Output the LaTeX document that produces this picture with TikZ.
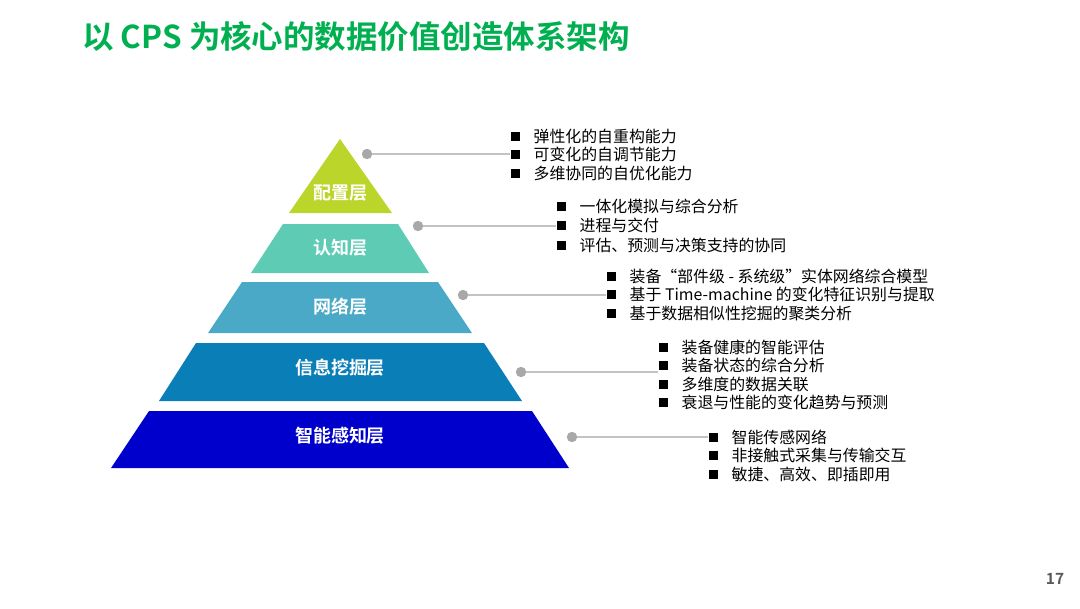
\documentclass[tikz,border=0pt]{standalone}
\usepackage{fontspec}
\usepackage{tikz}
\setmainfont{Noto Sans CJK SC}[BoldFont={Noto Sans CJK SC Bold}]
\usetikzlibrary{positioning, calc}

\definecolor{titlegreen}{HTML}{00B050}
\definecolor{layerA}{HTML}{BCD52A}
\definecolor{layerB}{HTML}{5ECCB4}
\definecolor{layerC}{HTML}{49A9C6}
\definecolor{layerD}{HTML}{0A7EB6}
\definecolor{layerE}{HTML}{0000CC}
\definecolor{leadgray}{HTML}{C3C3C3}
\definecolor{dotgray}{HTML}{A8A8A8}

\begin{document}
\begin{tikzpicture}[x=0.25mm, y=-0.25mm,
    lbl/.style={text=white, font=\bfseries\fontsize{12.8}{14}\selectfont, inner sep=0pt},
    bul/.style={fill=black, inner sep=0pt, minimum size=2.25mm},
    item/.style={font=\fontsize{11.3}{13}\selectfont, inner sep=0pt, right=4.6mm of #1.center, anchor=west},
    lead/.style={leadgray, line width=1pt},
    knob/.style={circle, fill=dotgray, inner sep=0pt, minimum size=2.6mm}]
    \useasboundingbox (0,0) rectangle (1080,608);

    % Title
    \node[anchor=west, inner sep=0pt, text=titlegreen, font=\bfseries\fontsize{22.4}{26}\selectfont] (title) at (82,37) {以 CPS 为核心的数据价值创造体系架构};

    % Pyramid layers
    \fill[layerA] (340,139) -- (392,213) -- (289,213) -- cycle;
    \fill[layerB] (283,224) -- (398,224) -- (429,273) -- (251,273) -- cycle;
    \fill[layerC] (242,282) -- (438,282) -- (472,333) -- (208,333) -- cycle;
    \fill[layerD] (196,343) -- (484,343) -- (522,401) -- (159,401) -- cycle;
    \fill[layerE] (149,411) -- (532,411) -- (569,468) -- (111,468) -- cycle;

    % Layer names
    \node[lbl] (l1) at (340,193) {配置层};
    \node[lbl] (l2) at (340,248) {认知层};
    \node[lbl] (l3) at (340,307) {网络层};
    \node[lbl] (l4) at (340,368) {信息挖掘层};
    \node[lbl] (l5) at (340,436) {智能感知层};

    % Bullet lists
    \foreach \txt [count=\i] in {弹性化的自重构能力, 可变化的自调节能力, 多维协同的自优化能力} {
        \node[bul] (b1\i) at (515,136+18.5*\i-18.5) {};
        \node[item=b1\i] (t1\i) {\txt};
    }
    \foreach \txt [count=\i] in {一体化模拟与综合分析, 进程与交付, 评估、预测与决策支持的协同} {
        \node[bul] (b2\i) at (561,206+19.5*\i-19.5) {};
        \node[item=b2\i] (t2\i) {\txt};
    }
    \foreach \txt [count=\i] in {装备“部件级 - 系统级”实体网络综合模型, 基于 Time-machine 的变化特征识别与提取, 基于数据相似性挖掘的聚类分析} {
        \node[bul] (b3\i) at (611,276+18.5*\i-18.5) {};
        \node[item=b3\i] (t3\i) {\txt};
    }
    \foreach \txt [count=\i] in {装备健康的智能评估, 装备状态的综合分析, 多维度的数据关联, 衰退与性能的变化趋势与预测} {
        \node[bul] (b4\i) at (663,347+18.5*\i-18.5) {};
        \node[item=b4\i] (t4\i) {\txt};
    }
    \foreach \txt [count=\i] in {智能传感网络, 非接触式采集与传输交互, 敏捷、高效、即插即用} {
        \node[bul] (b5\i) at (713,437+18.5*\i-18.5) {};
        \node[item=b5\i] (t5\i) {\txt};
    }

    % Leaders
    \node[knob] (d1) at (367,154) {};
    \node[knob] (d2) at (418,226) {};
    \node[knob] (d3) at (463,295) {};
    \node[knob] (d4) at (521,372) {};
    \node[knob] (d5) at (572,437) {};
    \draw[lead] (d1) -- (d1 -| b12.west);
    \draw[lead] (d2) -- (d2 -| b22.west);
    \draw[lead] (d3) -- (d3 -| b32.west);
    \draw[lead] (d4) -- (d4 -| b42.west);
    \draw[lead] (d5) -- (d5 -| b51.west);

    % Page number
    \node[text=black!65, font=\bfseries\fontsize{11}{13}\selectfont, inner sep=0pt] (page) at (1055,579) {17};
\end{tikzpicture}
\end{document}
